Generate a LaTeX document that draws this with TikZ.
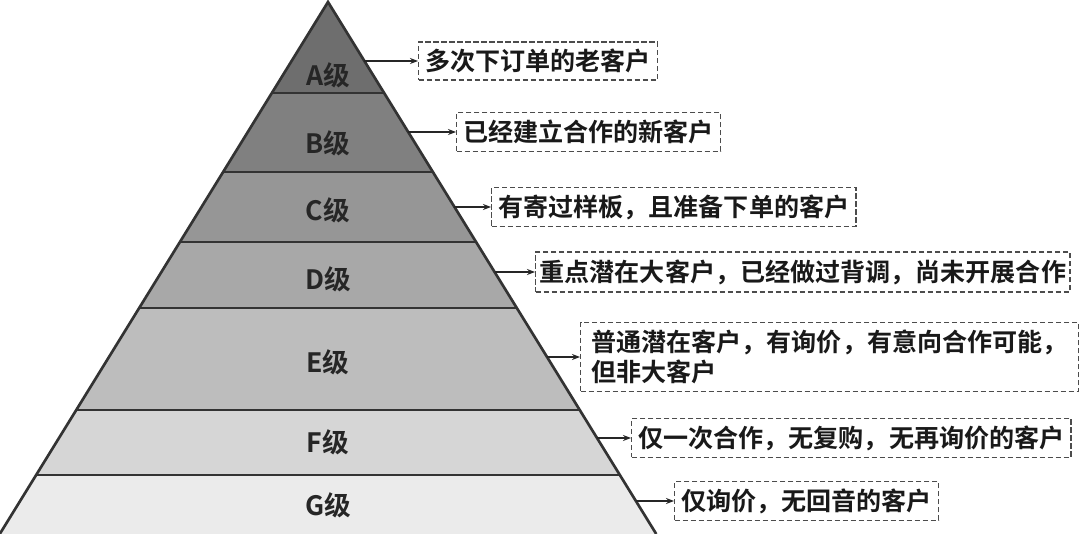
\documentclass[tikz,border=0pt]{standalone}
\usepackage{fontspec}
\setmainfont{Noto Sans CJK SC Bold}
\usetikzlibrary{arrows.meta}
\begin{document}
\begin{tikzpicture}[x=0.75pt,y=-0.75pt,
  band/.style={draw=black!80,line width=2pt},
  lvl/.style={font=\fontsize{20}{22}\selectfont,text=black!85},
  desc/.style={draw=black!70,dash pattern=on 4pt off 2pt,line width=1pt,fill=white,font=\fontsize{18.8}{22}\selectfont,text=black!90,anchor=west,inner xsep=5pt,align=left},
  arr/.style={-{Stealth[length=6pt]},line width=1pt,black!85}]
\useasboundingbox (0,0) rectangle (1080,534);
\fill[white] (0,0) rectangle (1080,534);
\def\lx#1{328-0.617*(#1-2)}
\def\rx#1{328+0.617*(#1-2)}
\fill[black!57] (328,2) -- ({\rx{93}},93) -- ({\lx{93}},93) -- cycle;
\fill[black!50] ({\lx{93}},93) -- ({\rx{93}},93) -- ({\rx{172}},172) -- ({\lx{172}},172) -- cycle;
\fill[black!41] ({\lx{172}},172) -- ({\rx{172}},172) -- ({\rx{242}},242) -- ({\lx{242}},242) -- cycle;
\fill[black!34] ({\lx{242}},242) -- ({\rx{242}},242) -- ({\rx{308}},308) -- ({\lx{308}},308) -- cycle;
\fill[black!26] ({\lx{308}},308) -- ({\rx{308}},308) -- ({\rx{410}},410) -- ({\lx{410}},410) -- cycle;
\fill[black!16] ({\lx{410}},410) -- ({\rx{410}},410) -- ({\rx{475}},475) -- ({\lx{475}},475) -- cycle;
\fill[black!8] ({\lx{475}},475) -- ({\rx{475}},475) -- ({\rx{534}},534) -- ({\lx{534}},534) -- cycle;
\foreach \y in {93,172,242,308,410,475}{\draw[band] ({\lx{\y}},\y) -- ({\rx{\y}},\y);}
\draw[band] ({\lx{534}},534) -- (328,2) -- ({\rx{534}},534);
\node[lvl] (la) at (328,75) {A级};
\node[lvl] (lb) at (328,143) {B级};
\node[lvl] (lc) at (328,210) {C级};
\node[lvl] (ld) at (328,279) {D级};
\node[lvl] (le) at (328,362) {E级};
\node[lvl] (lf) at (328,442) {F级};
\node[lvl] (lg) at (328,505) {G级};
\node[desc,minimum height=28.5pt] (da) at (418,61) {多次下订单的老客户};
\node[desc,minimum height=29pt] (db) at (456,132) {已经建立合作的新客户};
\node[desc,minimum height=29pt] (dc) at (491,207) {有寄过样板，且准备下单的客户};
\node[desc,minimum height=30pt,inner xsep=3pt] (dd) at (535,272) {重点潜在大客户，已经做过背调，尚未开展合作};
\node[desc,minimum height=52pt,inner xsep=8pt] (de) at (580,357) {普通潜在客户，有询价，有意向合作可能，\\但非大客户};
\node[desc,minimum height=29pt] (df) at (631,438) {仅一次合作，无复购，无再询价的客户};
\node[desc,minimum height=29pt] (dg) at (674,501) {仅询价，无回音的客户};
\coordinate (sa) at ({\rx{61}},61);
\coordinate (sb) at ({\rx{132}},132);
\coordinate (sc) at ({\rx{207}},207);
\coordinate (sd) at ({\rx{272}},272);
\coordinate (se) at ({\rx{357}},357);
\coordinate (sf) at ({\rx{438}},438);
\coordinate (sg) at ({\rx{501}},501);
\foreach \s/\d in {sa/da,sb/db,sc/dc,sd/dd,se/de,sf/df,sg/dg}{\draw[arr] (\s) -- (\d.west);}
\end{tikzpicture}
\end{document}
